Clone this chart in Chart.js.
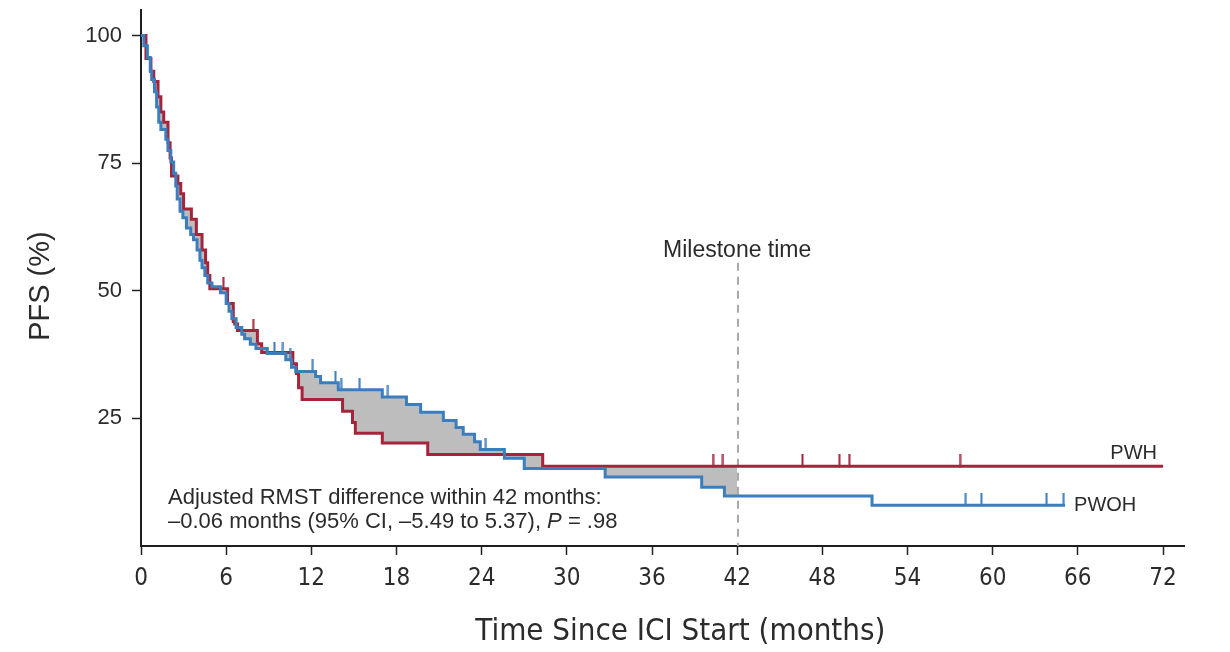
<!DOCTYPE html>
<html>
<head>
<meta charset="utf-8">
<script src="https://cdn.jsdelivr.net/npm/chart.js@4.4.1/dist/chart.umd.min.js"></script>
<style>
  html, body { margin: 0; padding: 0; background: #ffffff; }
  #c { display: block; }
</style>
</head>
<body>
<canvas id="c" width="1230" height="652"></canvas>
<script>
// ---------------- DATA ----------------
// PWH (red): event times (months) and survival (%) after each event
const pwhTimes = [0, 0.35, 0.7, 0.9, 1.2, 1.4, 1.6, 1.9, 2.05, 2.15, 2.6, 2.8, 3.0, 3.55, 3.9, 4.3, 4.55, 4.7, 4.85,
                  6.1, 6.5, 6.6, 6.8, 8.2, 8.5, 10.7, 10.95, 11.1, 11.35, 14.2, 14.9, 15.1, 17.0, 20.2, 28.3];
const pwhSurv  = [100, 95.5, 93, 91, 88, 85, 83, 79, 76, 72.5, 71, 69, 66, 64, 61, 58, 55.5, 53, 50.4,
                  47.5, 44, 43.5, 42.2, 39.6, 37.9, 35.7, 33.8, 31, 28.7, 26.4, 24.2, 22.1, 20.2, 17.9, 15.6];
const pwhEnd = 72;
const pwhCensor = [5.8, 7.9, 40.3, 41.0, 46.6, 49.2, 49.9, 57.7];

// PWOH (blue)
const pwohTimes = [0, 0.2, 0.45, 0.65, 0.75, 0.95, 1.1, 1.25, 1.4, 1.75, 1.9, 2.1, 2.3, 2.45, 2.55, 2.75, 2.95, 3.2,
                   3.5, 3.7, 3.95, 4.15, 4.3, 4.5, 4.7, 5.0, 5.6, 6.0, 6.2, 6.4, 6.7, 7.1, 7.3, 7.7, 8.1, 8.9,
                   10.2, 10.6, 10.9, 12.3, 12.65, 13.9, 17.0, 18.7, 19.7, 21.3, 22.2, 22.7, 23.5, 23.9, 25.6, 27.0,
                   32.7, 39.5, 41.1, 51.5];
const pwohSurv  = [100, 98, 95.7, 93, 91.4, 89, 86, 83, 81.6, 79.7, 77.5, 75.2, 73, 70.5, 68, 65.6, 64.3, 62.3,
                   61, 60, 58, 56, 54.5, 53, 51.5, 50.8, 49.6, 47.5, 46, 44.5, 42.8, 41.5, 40.6, 39.5, 38.7, 37.7,
                   36.5, 35, 34.2, 33.2, 32.0, 30.6, 29.2, 27.7, 26.2, 24.6, 23.2, 21.9, 20.4, 18.9, 17.2, 15.2,
                   13.5, 11.5, 9.8, 8.0];
const pwohEnd = 65.1;
const pwohCensor = [9.4, 10.0, 10.5, 12.1, 13.7, 14.1, 15.4, 17.4, 24.3, 58.1, 59.2, 63.8, 65.0];

const xTicks = [0, 6, 12, 18, 24, 30, 36, 42, 48, 54, 60, 66, 72];
const yTicks = [25, 50, 75, 100];
const milestoneMonth = 42;
const milestoneLabel = 'Milestone time';
const seriesLabels = ['PWH', 'PWOH'];
const noteLine1 = 'Adjusted RMST difference within 42 months:';
const noteLine2a = '\u20130.06 months (95% CI, \u20135.49 to 5.37), ';
const noteLine2b = 'P';
const noteLine2c = ' = .98';
const xTitle = 'Time Since ICI Start (months)';
const yTitle = 'PFS (%)';

// ---------------- helpers ----------------
function stepPoints(times, surv, end) {
  const pts = [{x: times[0], y: surv[0]}];
  for (let i = 1; i < times.length; i++) {
    if (times[i] > end) break;
    pts.push({x: times[i], y: surv[i - 1]});
    pts.push({x: times[i], y: surv[i]});
  }
  pts.push({x: end, y: pts[pts.length - 1].y});
  return pts;
}
function survAt(times, surv, t) {
  let v = surv[0];
  for (let i = 0; i < times.length; i++) if (times[i] <= t) v = surv[i];
  return v;
}
function censorMark(color) {
  const c = document.createElement('canvas');
  c.width = 3; c.height = 24;
  const g = c.getContext('2d');
  g.fillStyle = color;
  g.fillRect(0.5, 0, 2, 13);
  return c;
}

const RED = '#a4243b';
const BLUE = '#3b7dbd';
const GRAY = '#bdbdbd';
const FONT = "'Liberation Sans', Arial, Helvetica, sans-serif";
const CFONT = "'Liberation Sans Narrow', 'DejaVu Sans Condensed', 'Roboto Condensed', 'Liberation Sans', sans-serif";
const TEXT = '#2b2b2b';

Chart.defaults.font.family = FONT;

const overlay = {
  id: 'overlay',
  beforeDatasetsDraw(chart) {
    const {ctx, scales: {x, y}} = chart;
    ctx.save();
    const mx = x.getPixelForValue(milestoneMonth) + 0.8;
    ctx.strokeStyle = '#a8a8a8';
    ctx.lineWidth = 2;
    ctx.setLineDash([8, 6]);
    ctx.beginPath();
    ctx.moveTo(mx, y.getPixelForValue(55.5));
    ctx.lineTo(mx, y.getPixelForValue(0));
    ctx.stroke();
    ctx.restore();
  },
  afterDatasetsDraw(chart) {
    const {ctx, chartArea, scales: {x, y}} = chart;
    ctx.save();
    ctx.fillStyle = TEXT;
    ctx.textBaseline = 'middle';
    // milestone label
    ctx.font = '23px ' + FONT;
    ctx.textAlign = 'center';
    ctx.fillText(milestoneLabel, x.getPixelForValue(milestoneMonth), y.getPixelForValue(57.8));
    // series labels
    ctx.font = '20px ' + FONT;
    ctx.textAlign = 'right';
    ctx.fillText(seriesLabels[0], x.getPixelForValue(pwhEnd) - 6, y.getPixelForValue(pwhSurv[pwhSurv.length - 1]) - 13);
    ctx.textAlign = 'left';
    ctx.fillText(seriesLabels[1], x.getPixelForValue(pwohEnd) + 9, y.getPixelForValue(pwohSurv[pwohSurv.length - 1]));
    // RMST note
    ctx.font = '22px ' + FONT;
    const nx = chartArea.left + 27;
    ctx.fillText(noteLine1, nx, chartArea.bottom - 48);
    let cx = nx;
    const ny = chartArea.bottom - 24;
    ctx.fillText(noteLine2a, cx, ny);
    cx += ctx.measureText(noteLine2a).width;
    ctx.font = 'italic 22px ' + FONT;
    ctx.fillText(noteLine2b, cx, ny);
    cx += ctx.measureText(noteLine2b).width;
    ctx.font = '22px ' + FONT;
    ctx.fillText(noteLine2c, cx, ny);
    ctx.restore();
  }
};

new Chart(document.getElementById('c'), {
  type: 'line',
  data: {
    datasets: [
      { // gray area between curves up to the milestone
        data: stepPoints(pwhTimes, pwhSurv, milestoneMonth),
        borderWidth: 0, borderColor: 'transparent', pointRadius: 0,
        backgroundColor: GRAY, fill: {target: 1}, order: 5
      },
      {
        data: stepPoints(pwohTimes, pwohSurv, milestoneMonth),
        borderWidth: 0, borderColor: 'transparent', pointRadius: 0,
        fill: false, order: 5
      },
      {
        label: seriesLabels[0],
        data: stepPoints(pwhTimes, pwhSurv, pwhEnd),
        borderColor: RED, borderWidth: 3, pointRadius: 0, fill: false, order: 3,
        borderJoinStyle: 'miter', borderCapStyle: 'butt'
      },
      {
        label: seriesLabels[1],
        data: stepPoints(pwohTimes, pwohSurv, pwohEnd),
        borderColor: BLUE, borderWidth: 3, pointRadius: 0, fill: false, order: 2,
        borderJoinStyle: 'miter', borderCapStyle: 'butt'
      },
      {
        data: pwhCensor.map(t => ({x: t, y: survAt(pwhTimes, pwhSurv, t)})),
        showLine: false, pointStyle: censorMark(RED), order: 1
      },
      {
        data: pwohCensor.map(t => ({x: t, y: survAt(pwohTimes, pwohSurv, t)})),
        showLine: false, pointStyle: censorMark(BLUE), order: 0
      }
    ]
  },
  options: {
    responsive: false,
    devicePixelRatio: 1,
    animation: false,
    events: [],
    clip: false,
    layout: { autoPadding: false, padding: { left: 0, right: 45.7, top: 10, bottom: 0 } },
    plugins: { legend: { display: false }, tooltip: { enabled: false } },
    scales: {
      x: {
        type: 'linear', min: 0, max: 73.5,
        afterFit(s) { s.height = 106; s.paddingLeft = 0; s.paddingRight = 0; },
        afterBuildTicks(s) { s.ticks = xTicks.map(v => ({value: v})); },
        grid: { display: true, drawOnChartArea: false, drawTicks: true, tickLength: 9, tickColor: '#222', tickWidth: 1.5 },
        border: { display: true, color: '#1e1e1e', width: 2 },
        ticks: { color: TEXT, padding: 9, font: { size: 24, family: CFONT }, maxRotation: 0, autoSkip: false },
        title: { display: true, text: '\u00A0\u00A0\u00A0\u00A0' + xTitle, color: TEXT, font: { size: 31, family: CFONT }, padding: { top: 0, bottom: 1 } }
      },
      y: {
        type: 'linear', min: 0, max: 105,
        afterFit(s) { s.width = 141; s.paddingTop = 0; s.paddingBottom = 0; },
        afterBuildTicks(s) { s.ticks = yTicks.map(v => ({value: v})); },
        grid: { display: true, drawOnChartArea: false, drawTicks: true, tickLength: 9, tickColor: '#222', tickWidth: 1.5 },
        border: { display: true, color: '#1e1e1e', width: 2 },
        ticks: { color: TEXT, padding: 10, font: { size: 22 } },
        title: { display: true, text: yTitle + '\u00A0\u00A0', color: TEXT, font: { size: 29 }, padding: { top: 24, bottom: 0 } }
      }
    }
  },
  plugins: [overlay]
});
</script>
</body>
</html>
